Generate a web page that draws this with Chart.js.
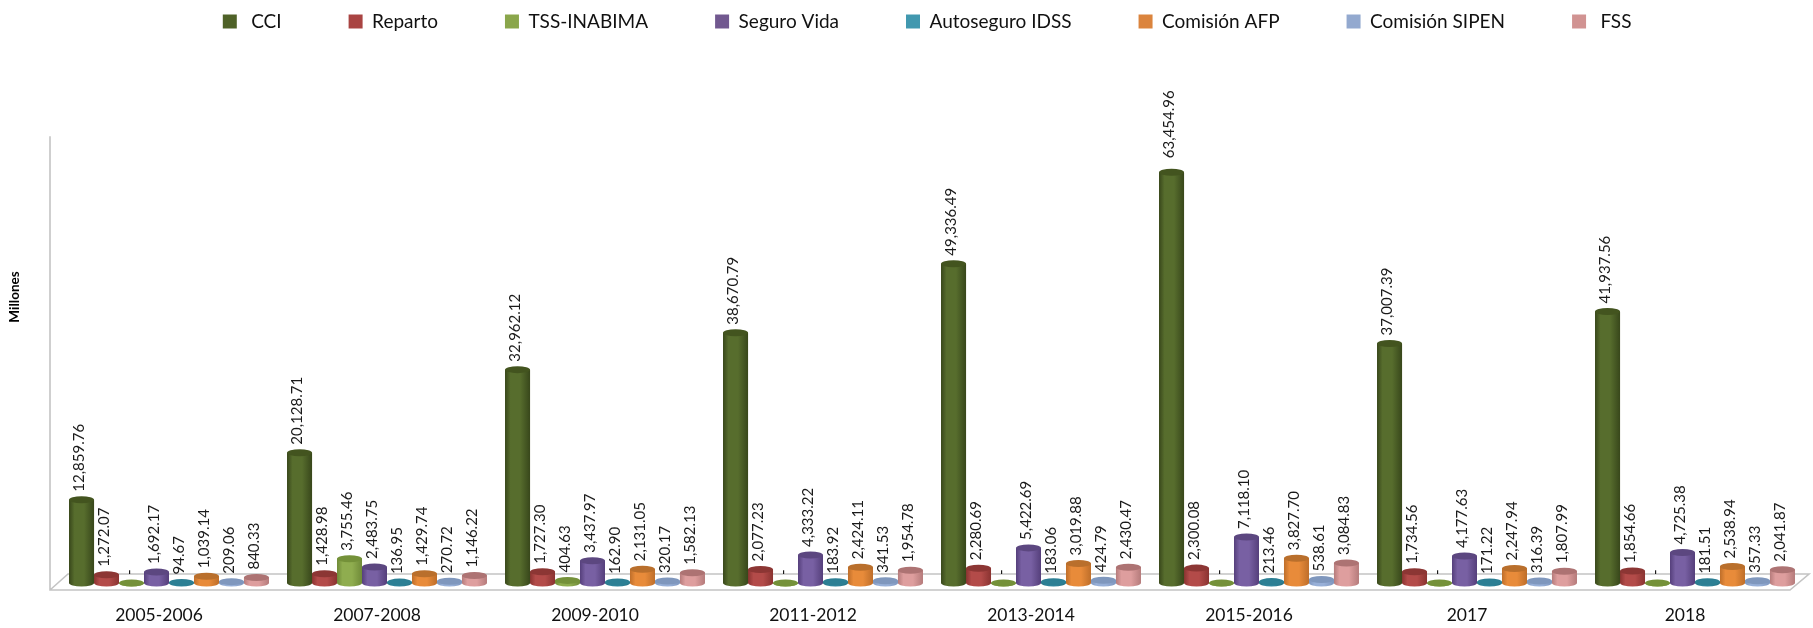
<!DOCTYPE html>
<html lang="es">
<head>
<meta charset="utf-8">
<title>Comisiones y aportes</title>
<script src="https://cdn.jsdelivr.net/npm/chart.js@4/dist/chart.umd.min.js"></script>
<style>
    html, body { margin: 0; padding: 0; background: #fff; }
    canvas { display: block; }
</style>
</head>
<body>
<canvas id="grafico" width="1813" height="628"></canvas>
<script>
    // --- Datos ---
    const categorias = ['2005-2006', '2007-2008', '2009-2010', '2011-2012', '2013-2014', '2015-2016', '2017', '2018'];
    const cci = [12859.76, 20128.71, 32962.12, 38670.79, 49336.49, 63454.96, 37007.39, 41937.56];
    const reparto = [1272.07, 1428.98, 1727.30, 2077.23, 2280.69, 2300.08, 1734.56, 1854.66];
    const tssInabima = [0, 3755.46, 404.63, 0, 0, 0, 0, 0];
    const seguroVida = [1692.17, 2483.75, 3437.97, 4333.22, 5422.69, 7118.10, 4177.63, 4725.38];
    const autoseguroIdss = [94.67, 136.95, 162.90, 183.92, 183.06, 213.46, 171.22, 181.51];
    const comisionAfp = [1039.14, 1429.74, 2131.05, 2424.11, 3019.88, 3827.70, 2247.94, 2538.94];
    const comisionSipen = [209.06, 270.72, 320.17, 341.53, 424.79, 538.61, 316.39, 357.33];
    const fss = [840.33, 1146.22, 1582.13, 1954.78, 2430.47, 3084.83, 1807.99, 2041.87];

    const FUENTE = 'Lato, "Open Sans", sans-serif';
    const formato = new Intl.NumberFormat('en-US', { minimumFractionDigits: 2, maximumFractionDigits: 2 });

    // color = leyenda, centro/borde = cuerpo del cilindro, tapa = elipse superior
    function serie(label, data, color, centro, borde, tapa) {
        return { label, data, backgroundColor: color, borderWidth: 0, centro, borde, tapa };
    }

    const datasets = [
        serie(' CCI', cci, '#4F6228', '#576D2D', '#38471B', '#43541F'),
        serie('Reparto', reparto, '#A94442', '#B34B49', '#8A3331', '#8C3634'),
        serie('TSS-INABIMA', tssInabima, '#8AA64B', '#8FAD4F', '#6F8A38', '#749139'),
        serie('Seguro Vida', seguroVida, '#71588F', '#7860A3', '#553F7B', '#5C4780'),
        serie('Autoseguro IDSS', autoseguroIdss, '#4198AF', '#31859C', '#27707F', '#2C7F94'),
        serie('Comisión AFP', comisionAfp, '#DB843D', '#E88B3A', '#BE6E2A', '#B96F2C'),
        serie('Comisión SIPEN', comisionSipen, '#93A9CF', '#98B0D8', '#7E96BE', '#7F97BD'),
        serie(' FSS  ', fss, '#D19392', '#DE9E9E', '#B57B7B', '#AD7373')
    ];

    // --- Cilindros sobre cada barra ---
    const cilindros = {
        id: 'cilindros',
        afterDatasetDraw(chart, args) {
            const { ctx } = chart;
            const ds = chart.data.datasets[args.index];
            args.meta.data.forEach(bar => {
                const rx = bar.width / 2;
                const ry = 3.5;
                const x0 = bar.x - rx;
                const g = ctx.createLinearGradient(x0, 0, x0 + bar.width, 0);
                g.addColorStop(0, ds.borde);
                g.addColorStop(0.22, ds.centro);
                g.addColorStop(0.6, ds.centro);
                g.addColorStop(1, ds.borde);
                ctx.save();
                ctx.fillStyle = g;
                ctx.beginPath();
                ctx.moveTo(x0, bar.y);
                ctx.lineTo(x0, bar.base);
                ctx.ellipse(bar.x, bar.base, rx, ry, 0, Math.PI, 0, true);
                ctx.lineTo(x0 + bar.width, bar.y);
                ctx.closePath();
                ctx.fill();
                ctx.fillStyle = ds.tapa;
                ctx.beginPath();
                ctx.ellipse(bar.x, bar.y, rx, ry, 0, 0, Math.PI * 2);
                ctx.fill();
                ctx.restore();
            });
        }
    };

    // --- Piso, pared y textos ---
    const decorado = {
        id: 'decorado',
        beforeDatasetsDraw(chart) {
            const { ctx, chartArea, scales } = chart;
            const y0 = chartArea.bottom;
            const izq = chartArea.left;
            const der = chartArea.right;
            ctx.save();
            ctx.strokeStyle = '#C4C4C4';
            ctx.lineWidth = 1.6;
            ctx.beginPath();
            ctx.moveTo(izq - 10, scales.y.getPixelForValue(69000));
            ctx.lineTo(izq - 10, y0 + 7);
            ctx.lineTo(der - 14, y0 + 7);
            ctx.lineTo(der + 5, y0 - 9);
            ctx.lineTo(izq + 8, y0 - 9);
            ctx.lineTo(izq - 10, y0 + 7);
            ctx.stroke();
            ctx.restore();
        },
        afterDatasetsDraw(chart) {
            const { ctx } = chart;
            ctx.save();
            ctx.fillStyle = '#1A1A1A';
            ctx.font = '15px ' + FUENTE;
            ctx.textAlign = 'left';
            ctx.textBaseline = 'middle';
            chart.data.datasets.forEach((ds, i) => {
                chart.getDatasetMeta(i).data.forEach((bar, j) => {
                    const valor = ds.data[j];
                    // la etiqueta mas alta queda algo mas separada de su barra
                    const extra = valor > 60000 ? 6 : 0;
                    ctx.save();
                    ctx.translate(bar.x - 2.5, bar.y - 8 - extra);
                    ctx.rotate(-Math.PI / 2);
                    ctx.fillText(valor === 0 ? '-' : formato.format(valor), 0, 0);
                    ctx.restore();
                });
            });
            // titulo del eje Y
            ctx.fillStyle = '#000';
            ctx.font = 'bold 13.5px ' + FUENTE;
            ctx.textAlign = 'center';
            ctx.translate(15, 297);
            ctx.rotate(-Math.PI / 2);
            ctx.fillText('Millones', 0, 0);
            ctx.restore();
        }
    };

    new Chart(document.getElementById('grafico'), {
        type: 'bar',
        data: { labels: categorias, datasets },
        plugins: [decorado, cilindros],
        options: {
            responsive: false,
            animation: false,
            layout: { padding: { left: 60, right: 9, top: -55, bottom: -20 } },
            datasets: { bar: { categoryPercentage: 0.917, barPercentage: 1 } },
            plugins: {
                tooltip: { enabled: false },
                legend: {
                    position: 'top',
                    labels: {
                        boxWidth: 14,
                        boxHeight: 14,
                        padding: 67,
                        color: '#111',
                        font: { family: FUENTE, size: 19 }
                    }
                }
            },
            scales: {
                x: {
                    grid: { display: false, drawTicks: false },
                    border: { display: false },
                    ticks: {
                        color: '#111',
                        padding: 22,
                        labelOffset: -10,
                        maxRotation: 0,
                        font: { family: FUENTE, size: 17.5 }
                    }
                },
                y: {
                    display: false,
                    min: 0,
                    max: 83734
                }
            }
        }
    });
</script>
</body>
</html>
